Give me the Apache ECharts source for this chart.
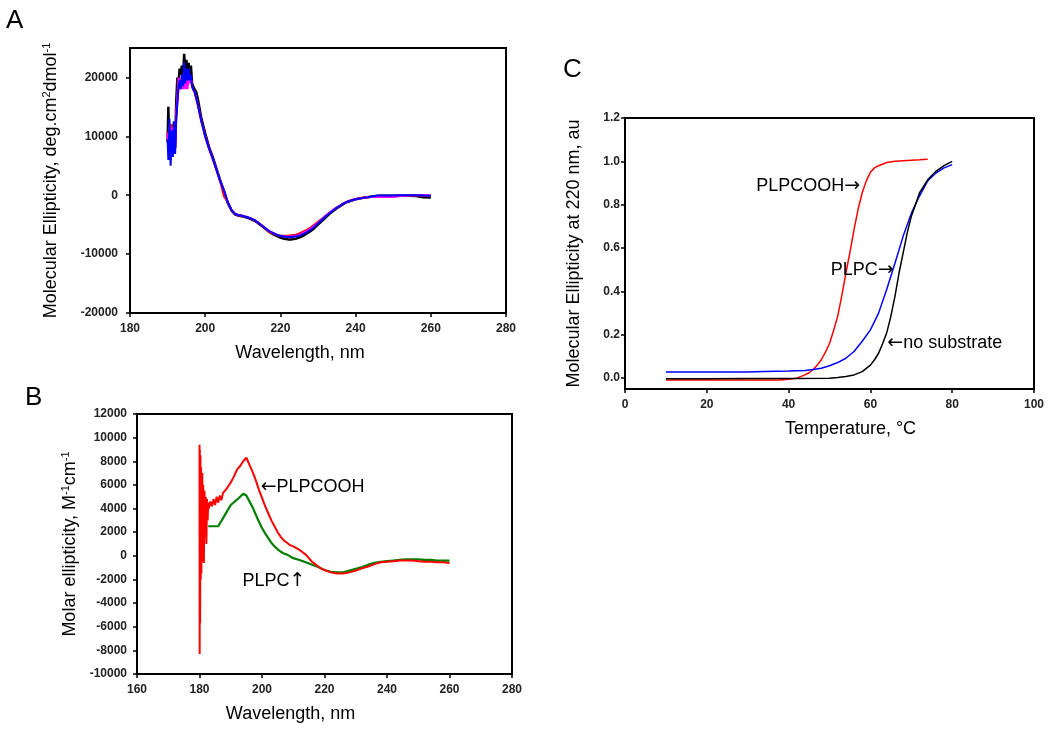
<!DOCTYPE html>
<html><head><meta charset="utf-8">
<script src="https://cdn.jsdelivr.net/npm/echarts@6/dist/echarts.min.js"></script>
<style>html,body{margin:0;padding:0;background:#fff}#c{width:1050px;height:737px}</style>
</head><body><div id="c"></div>
<script>
// ---------- Panel A data ----------
const aWavelength = [190.0,190.2,190.5,190.8,191.1,191.4,191.7,192.0,192.3,192.6,192.9,193.2,193.5,193.8,194.1,194.4,194.7,195.0,195.3,195.6,195.9,196.2,196.5,196.8,197.2,197.6,
 198,199,200,201,202,203,204,205,206,207,208,209,210,211,212,213,214,215,216,217,218,219,220,221,222,223,224,225,226,227,228,229,230,231,232,233,234,235,236,237,238,239,240,
 242,244,246,248,250,252,254,256,258,260];
const aBlack = [9000,15000,6000,8000,12000,7000,12500,8000,16000,20000,19000,21500,20500,22000,19500,24000,21000,23000,20500,22500,20000,22000,19000,18500,18000,17500,
 16500,13000,10500,8200,6500,4500,2500,700,-1300,-2600,-3300,-3500,-3600,-3800,-4000,-4300,-4700,-5200,-5700,-6200,-6600,-6900,-7200,-7400,-7500,-7500,-7400,-7200,-6900,-6500,-6100,-5600,-5000,-4400,-3800,-3200,-2700,-2200,-1800,-1400,-1100,-900,-700,
 -450,-250,-100,-100,-100,-100,-100,-150,-350,-400];
const aRed = [10800,7000,11500,6000,12000,8000,12500,8000,13500,16000,18000,19000,18500,20000,19000,21500,19500,21000,20000,21000,19500,20000,18500,18000,17500,16500,
 15500,12500,10000,8000,6200,4300,2300,-200,-1200,-2500,-3200,-3400,-3500,-3700,-3900,-4200,-4600,-5100,-5700,-6300,-6500,-6700,-6900,-6900,-6900,-6800,-6700,-6500,-6200,-5900,-5500,-5000,-4500,-4000,-3500,-3000,-2500,-2100,-1700,-1300,-1000,-800,-650,
 -400,-300,-200,-200,-200,-100,-50,0,-50,-100];
const aMagenta = [10500,7000,12000,6000,11500,7000,12000,8000,14000,17000,20000,19000,18000,20000,18000,21000,18000,19500,18000,20500,19000,20000,18500,18000,17500,16500,
 15500,12500,10000,8000,6200,4300,2400,800,-1200,-2500,-3200,-3400,-3500,-3700,-3900,-4200,-4600,-5100,-5600,-6100,-6400,-6700,-6900,-7000,-7000,-7000,-6900,-6700,-6400,-6100,-5700,-5200,-4700,-4100,-3500,-3000,-2500,-2100,-1700,-1350,-1050,-850,-700,
 -450,-300,-300,-300,-300,-150,-50,0,0,-50];
const aBlue = [9500,6000,13000,5000,11000,6500,12500,7000,13000,15500,18500,19500,18000,20500,18500,22500,19000,21500,19500,21500,19500,20500,18500,18000,17500,16500,
 15500,12500,10000,8000,6200,4300,2400,800,-1200,-2500,-3200,-3400,-3500,-3700,-3900,-4200,-4600,-5100,-5600,-6100,-6400,-6700,-6900,-7000,-7100,-7100,-7000,-6900,-6600,-6300,-5900,-5400,-4800,-4200,-3600,-3100,-2600,-2100,-1700,-1350,-1050,-850,-700,
 -450,-250,-50,-50,-50,0,0,0,-50,-100];
const aYTicks = [-20000,-10000,0,10000,20000];

// ---------- Panel B data ----------
const bRedWavelength = [180.0,180.05,180.1,180.2,180.3,180.4,180.5,180.6,180.7,180.8,180.9,181.0,181.2,181.4,181.6,181.8,182.0,182.2,182.4,182.6,182.8,183.0,183.5,184,184.5,185,185.5,186,186.5,187,187.5,188,189,190,191,192,193,194,195,196,197,198,199,200,201,202,203,204,205,206,207,208,209,210,211,212,213,214,215,216,217,218,219,220,222,224,226,228,230,232,234,236,238,240,242,244,246,248,250,252,254,256,258,260];
const bPLPCOOH = [9400,-8300,9000,-5700,8500,-2000,7500,-1500,6500,0,7000,-500,6000,-600,5500,1500,5000,1000,4800,3000,4500,4000,4600,4200,4800,4300,5000,4500,5100,4700,5300,5200,5800,6200,6700,7300,7600,8000,8300,7700,7100,6400,5600,4900,4200,3600,3000,2500,2000,1600,1300,1100,900,800,650,500,300,100,-200,-500,-700,-900,-1100,-1200,-1400,-1500,-1500,-1400,-1250,-1050,-900,-700,-550,-500,-450,-400,-400,-400,-450,-500,-500,-550,-550,-600];
const bGreenWavelength = [182.8,184,186,188,190,192,194,195,196,197,198,199,200,201,202,203,204,205,206,207,208,209,210,212,214,216,218,220,222,224,226,228,230,232,234,236,238,240,242,244,246,248,250,252,254,256,258,260];
const bPLPC = [2500,2500,2500,3400,4300,4750,5250,5100,4600,4100,3500,2900,2350,1900,1500,1100,800,550,350,200,100,-50,-200,-350,-550,-750,-950,-1200,-1350,-1400,-1400,-1250,-1100,-950,-750,-600,-500,-450,-400,-350,-300,-300,-300,-350,-350,-400,-400,-400];

// ---------- Panel C data ----------
const cRedTemp = [10,20,30,38,40,42,44,45,46,47,48,49,50,51,52,53,54,55,56,57,58,59,60,61,62,64,66,68,70,72,74];
const cPLPCOOH = [-0.008,-0.008,-0.008,-0.008,-0.005,0.0,0.015,0.025,0.04,0.06,0.085,0.12,0.16,0.22,0.285,0.38,0.485,0.58,0.685,0.78,0.855,0.91,0.95,0.97,0.98,0.995,1.0,1.003,1.005,1.007,1.01];
const cBlueTemp = [10,20,30,34,40,44,46,48,50,52,54,56,58,60,62,64,66,68,70,72,74,76,78,80];
const cPLPC = [0.028,0.028,0.028,0.031,0.033,0.035,0.04,0.046,0.057,0.072,0.092,0.123,0.17,0.223,0.3,0.41,0.53,0.654,0.76,0.84,0.91,0.946,0.97,0.985];
const cBlackTemp = [10,20,30,40,50,52,54,56,58,60,61,62,63,64,65,66,67,68,69,70,72,74,76,78,80];
const cNoSubstrate = [-0.003,-0.003,-0.002,-0.001,0.0,0.003,0.008,0.015,0.03,0.06,0.085,0.115,0.16,0.21,0.285,0.377,0.485,0.577,0.67,0.746,0.854,0.915,0.954,0.98,1.0];
const cYTicks = [0,0.2,0.4,0.6,0.8,1.0,1.2];

// ---------- build ----------
const FONT = '"Liberation Sans", Arial, Helvetica, sans-serif';
const pairs = (xs, ys) => xs.map((x, i) => [x, ys[i]]);

function xAx(gi, min, max, interval, name, pad) {
  return {
    type: 'value', gridIndex: gi, min, max, interval,
    name, nameLocation: 'middle', nameGap: 31,
    nameTextStyle: { fontFamily: FONT, fontSize: 18, color: '#000', padding: pad },
    axisLine: { onZero: false, lineStyle: { color: '#000', width: 2 } },
    axisTick: { show: true, length: 4, lineStyle: { color: '#000', width: 1.5 } },
    axisLabel: { fontFamily: FONT, fontSize: 12, fontWeight: 'bold', color: '#222', margin: 10, formatter: v => String(v) },
    splitLine: { show: false }
  };
}
function yAx(gi, min, max, interval, name, gap, margin, fmt, customTicks, rich) {
  const o = {
    type: 'value', gridIndex: gi, min, max, interval,
    name, nameLocation: 'middle', nameGap: gap,
    nameTextStyle: { fontFamily: FONT, fontSize: 18, color: '#000', rich: rich },
    axisLine: { onZero: false, lineStyle: { color: '#000', width: 2 } },
    axisTick: { show: true, length: 4, lineStyle: { color: '#000', width: 1.5 } },
    axisLabel: { fontFamily: FONT, fontSize: 12, fontWeight: 'bold', color: '#222', margin: margin, formatter: fmt },
    splitLine: { show: false }
  };
  if (customTicks) {
    o.axisTick.customValues = customTicks;
    o.axisLabel.customValues = customTicks;
  }
  return o;
}
const supRich = {
  sup: { fontFamily: FONT, fontSize: 11, color: '#000', padding: [0, 0, 9, 0] }
};
function line(xi, yi, data, color, width) {
  return { type: 'line', xAxisIndex: xi, yAxisIndex: yi, data, showSymbol: false, symbol: 'none',
    lineStyle: { color, width }, itemStyle: { color }, animation: false, z: 2 };
}
function note(text, coord, pos) {
  return {
    symbol: 'circle', symbolSize: 1, itemStyle: { color: 'rgba(0,0,0,0)' },
    label: { show: true, formatter: text, position: pos, distance: 0, fontFamily: FONT, fontSize: 18, color: '#000',
      rich: {
        t: { fontFamily: FONT, fontSize: 18, color: '#000' },
        a: { fontFamily: '"DejaVu Sans", sans-serif', fontSize: 19, color: '#000' }
      } },
    data: [{ coord }]
  };
}

const gridBase = { show: true, borderColor: '#000', borderWidth: 2, backgroundColor: '#fff', containLabel: false, outerBoundsMode: 'none' };

const sBRed = line(1, 1, pairs(bRedWavelength, bPLPCOOH), '#ff0000', 2);
sBRed.markPoint = note('{a|←}{t|PLPCOOH}', [199.4, 5850], 'right');
const sBGreen = line(1, 1, pairs(bGreenWavelength, bPLPC), '#008000', 2.2);
sBGreen.markPoint = note('{t|PLPC}{a|↑}', [193.6, -2100], 'right');
const sCRed = line(2, 2, pairs(cRedTemp, cPLPCOOH), '#ff0000', 1.5);
sCRed.markPoint = note('{t|PLPCOOH}{a|→}', [57.6, 0.888], 'left');
const sCBlue = line(2, 2, pairs(cBlueTemp, cPLPC), '#0000ff', 1.5);
sCBlue.markPoint = note('{t|PLPC}{a|→}', [65.8, 0.5], 'left');
const sCBlack = line(2, 2, pairs(cBlackTemp, cNoSubstrate), '#000000', 1.5);
sCBlack.markPoint = note('{a|←}{t|no substrate}', [64.0, 0.16], 'right');

const option = {
  backgroundColor: '#fff',
  animation: false,
  grid: [
    Object.assign({ left: 130, top: 48, width: 376, height: 265 }, gridBase),
    Object.assign({ left: 137, top: 414, width: 375, height: 260 }, gridBase),
    Object.assign({ left: 625, top: 118, width: 409, height: 271 }, gridBase)
  ],
  xAxis: [
    xAx(0, 180, 280, 20, 'Wavelength, nm', [0, 36, 0, 0]),
    xAx(1, 160, 280, 20, 'Wavelength, nm', [0, 68, 0, 0]),
    xAx(2, 0, 100, 20, 'Temperature, °C', [0, 0, 0, 42])
  ],
  yAxis: [
    yAx(0, -20000, 25000, 10000, 'Molecular Ellipticity, deg.cm{sup|2}dmol{sup|-1}', 69, 12, v => String(v), aYTicks, supRich),
    yAx(1, -10000, 12000, 2000, 'Molar ellipticity, M{sup|-1}cm{sup|-1}', 57, 10, v => String(v), null, supRich),
    yAx(2, -0.05, 1.2, 0.05, 'Molecular Ellipticity at 220 nm, au', 42, 5, v => Number(v).toFixed(1), cYTicks, supRich)
  ],
  graphic: [
    { type: 'text', left: 6, top: 8, style: { text: 'A', font: '26px ' + FONT, fill: '#000' } },
    { type: 'text', left: 25, top: 385, style: { text: 'B', font: '26px ' + FONT, fill: '#000' } },
    { type: 'text', left: 563, top: 57, style: { text: 'C', font: '26px ' + FONT, fill: '#000' } }
  ],
  series: [
    line(0, 0, pairs(aWavelength, aBlack), '#000000', 2.5),
    line(0, 0, pairs(aWavelength, aRed), '#ff0000', 2),
    line(0, 0, pairs(aWavelength, aMagenta), '#ff00ff', 2),
    line(0, 0, pairs(aWavelength, aBlue), '#0000ff', 2),
    sBGreen,
    sBRed,
    sCRed,
    sCBlue,
    sCBlack
  ]
};
const chart = echarts.init(document.getElementById('c'), null, { renderer: 'canvas' });
chart.setOption(option);
</script></body></html>
